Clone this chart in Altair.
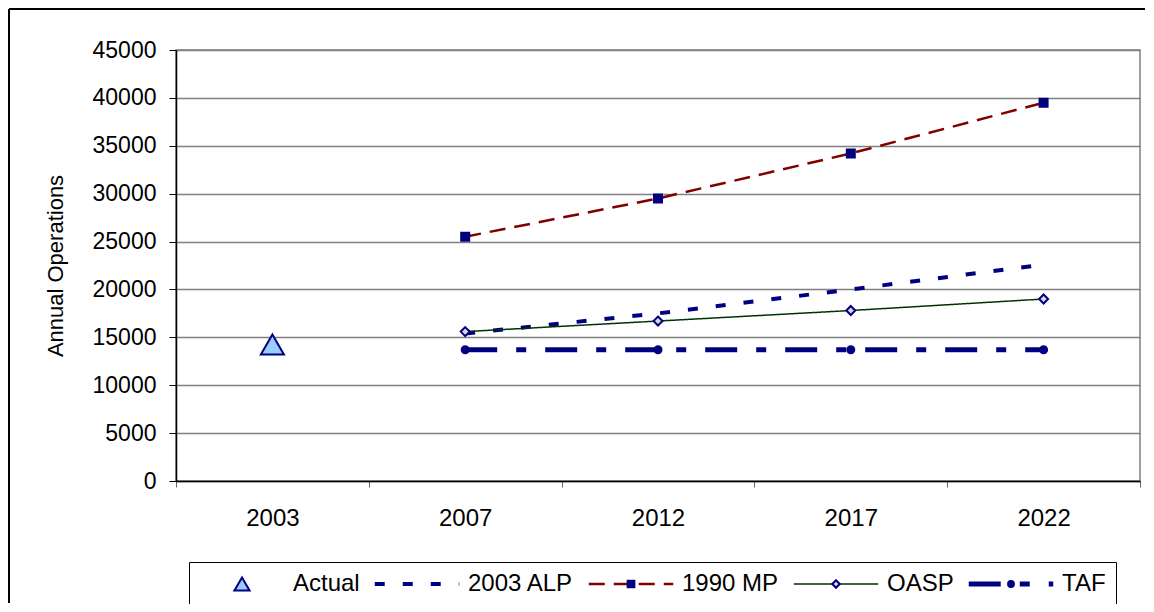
import altair as alt
import pandas as pd

# ---------------- data ----------------
years = ["2003", "2007", "2012", "2017", "2022"]
proj_years = ["2007", "2012", "2017", "2022"]
actual_year = ["2003"]
actual_ops = [14250]
alp_2003 = [15400, 17500, 20000, 22600]
mp_1990 = [25500, 29500, 34200, 39500]
oasp = [15600, 16700, 17800, 19000]
taf = [13700, 13700, 13700, 13700]
series_names = ["Actual", "2003 ALP", "1990 MP", "OASP", "TAF"]
y_ticks = [0, 5000, 10000, 15000, 20000, 25000, 30000, 35000, 40000, 45000]
y_title = "Annual Operations"

FONT = "Liberation Sans"
NAVY = "#000080"
RED = "#800000"
GREEN = "#003300"

# ---------------- encodings ----------------
x_enc = alt.X(
    "year:N",
    scale=alt.Scale(type="band", domain=years, paddingInner=0, paddingOuter=0),
    axis=alt.Axis(title=None, labelAngle=0, tickBand="extent", grid=False,
                  domainColor="black", domainWidth=1.5, tickColor="#666666",
                  tickSize=6, tickWidth=1, labelFont=FONT, labelFontSize=24,
                  labelColor="black", labelPadding=19),
)
y_enc = alt.Y(
    "value:Q",
    scale=alt.Scale(domain=[0, 45000], nice=False),
    axis=alt.Axis(title=y_title, values=y_ticks, format="d", grid=True,
                  gridColor="#808080", gridWidth=1.5, domainColor="black",
                  domainWidth=1.5, tickColor="black", tickSize=7, tickWidth=1,
                  labelFont=FONT, labelFontSize=23, labelColor="black",
                  labelPadding=13, titleFont=FONT, titleFontSize=22,
                  titleFontWeight="normal", titleColor="black", titlePadding=25),
)

# ---------------- line layers ----------------
line_specs = [
    ("2003 ALP", alp_2003, NAVY, 4, [10, 18]),
    ("1990 MP", mp_1990, RED, 2.5, [16, 9]),
    ("OASP", oasp, GREEN, 1.5, [1, 0]),
    ("TAF", taf, NAVY, 5, [32, 19, 10, 19]),
]
line_layers = []
for name, vals, col, w, dash in line_specs:
    df = pd.DataFrame({"series": name, "year": proj_years, "value": vals})
    line_layers.append(
        alt.Chart(df).mark_line(color=col, strokeWidth=w, strokeDash=dash)
        .encode(x=x_enc, y=y_enc)
    )

# ---------------- marker layers ----------------
marker_rows = []
for name, vals in [("1990 MP", mp_1990), ("OASP", oasp), ("TAF", taf)]:
    for yr, v in zip(proj_years, vals):
        marker_rows.append({"series": name, "year": yr, "value": v})
markers_df = pd.DataFrame(marker_rows)
actual_df = pd.DataFrame({"series": ["Actual"], "year": actual_year, "value": actual_ops})

tri = "M0,-0.155L0.18,0.155L-0.18,0.155Z"
sq = "M-0.08,-0.08H0.08V0.08H-0.08Z"
dia = "M0,-0.09L0.09,0L0,0.09L-0.09,0Z"
circ = "M0.07,0A0.07,0.07,0,1,1,-0.07,0A0.07,0.07,0,1,1,0.07,0Z"
marker_shapes = [tri, "M0,0", sq, dia, circ]
marker_fills = ["#99CCFF", "transparent", NAVY, "#D8D8D8", NAVY]
marker_strokes = [NAVY, "transparent", NAVY, NAVY, NAVY]

common_legend = dict(
    title=None, orient="none", legendX=13, legendY=512, direction="horizontal",
    columns=5, padding=10, columnPadding=14, labelFont=FONT, labelFontSize=24,
    labelColor="black", labelOffset=8, clipHeight=24, labelLimit=300,
)
legend_marks = alt.Legend(symbolSize=7056, symbolStrokeWidth=2, labelOpacity=0,
                          symbolOpacity=1, zindex=2, **common_legend)

mk_enc = dict(
    shape=alt.Shape("series:N", scale=alt.Scale(domain=series_names, range=marker_shapes),
                    legend=legend_marks),
    fill=alt.Fill("series:N", scale=alt.Scale(domain=series_names, range=marker_fills),
                  legend=legend_marks),
    stroke=alt.Stroke("series:N", scale=alt.Scale(domain=series_names, range=marker_strokes),
                      legend=legend_marks),
)

markers = alt.Chart(markers_df).mark_point(filled=True, size=10000, strokeWidth=2, opacity=1).encode(
    x=x_enc, y=y_enc, **mk_enc)
actual_pt = alt.Chart(actual_df).mark_point(filled=True, size=16384, strokeWidth=2, opacity=1).encode(
    x=x_enc, y=y_enc, **mk_enc)

# outer frame of the chart area (top and left edges only)
frame_df = pd.DataFrame({"a": [0]})
frame_top = alt.Chart(frame_df).mark_rule(color="black", strokeWidth=2).encode(
    x=alt.value(-167), x2=alt.value(969), y=alt.value(-41))
frame_left = alt.Chart(frame_df).mark_rule(color="black", strokeWidth=2).encode(
    x=alt.value(-167), y=alt.value(-41), y2=alt.value(553))

inner = alt.layer(frame_top, frame_left, *line_layers, markers, actual_pt)

# ---------------- line legend (empty data, legend only) ----------------
line_shapes = [
    "M0,0",
    "M-1,0H1M-1,-0.0296H1M-1,0.0296H1",
    "M-1,-0.0118H1M-1,0.0118H1",
    "M-1,0H1",
    "M-1,-0.0414H1M-1,-0.0142H1M-1,0.0142H1M-1,0.0414H1",
]
line_colors = ["transparent", NAVY, RED, GREEN, NAVY]
line_dashes = [[1, 0], [10, 18], [16, 9], [1, 0], [32, 19, 10, 19]]
legend_lines = alt.Legend(symbolSize=7140, symbolStrokeWidth=1.5, symbolOpacity=1,
                          symbolFillColor="transparent", strokeColor="black",
                          zindex=1, **common_legend)
legend_layer = alt.Chart(alt.InlineData(values=[])).mark_point(
    filled=False, strokeWidth=1.5, size=7140).encode(
    color=alt.Color("series:N", scale=alt.Scale(domain=series_names, range=line_colors),
                    legend=legend_lines),
    strokeDash=alt.StrokeDash("series:N", scale=alt.Scale(domain=series_names, range=line_dashes),
                              legend=legend_lines),
    shape=alt.Shape("series:N", scale=alt.Scale(domain=series_names, range=line_shapes),
                    legend=legend_lines),
)

chart = alt.layer(legend_layer, inner).resolve_scale(
    shape="independent", color="independent", strokeDash="independent",
    fill="independent", stroke="independent",
).properties(
    width=964, height=431,
    autosize=alt.AutoSizeParams(type="none"),
    padding={"left": 168, "top": 42, "right": 6, "bottom": 123},
).configure(font=FONT, background="white").configure_view(stroke="#808080", strokeWidth=1.5)

chart.save("out.html", embed_options={"renderer": "svg", "actions": False})
